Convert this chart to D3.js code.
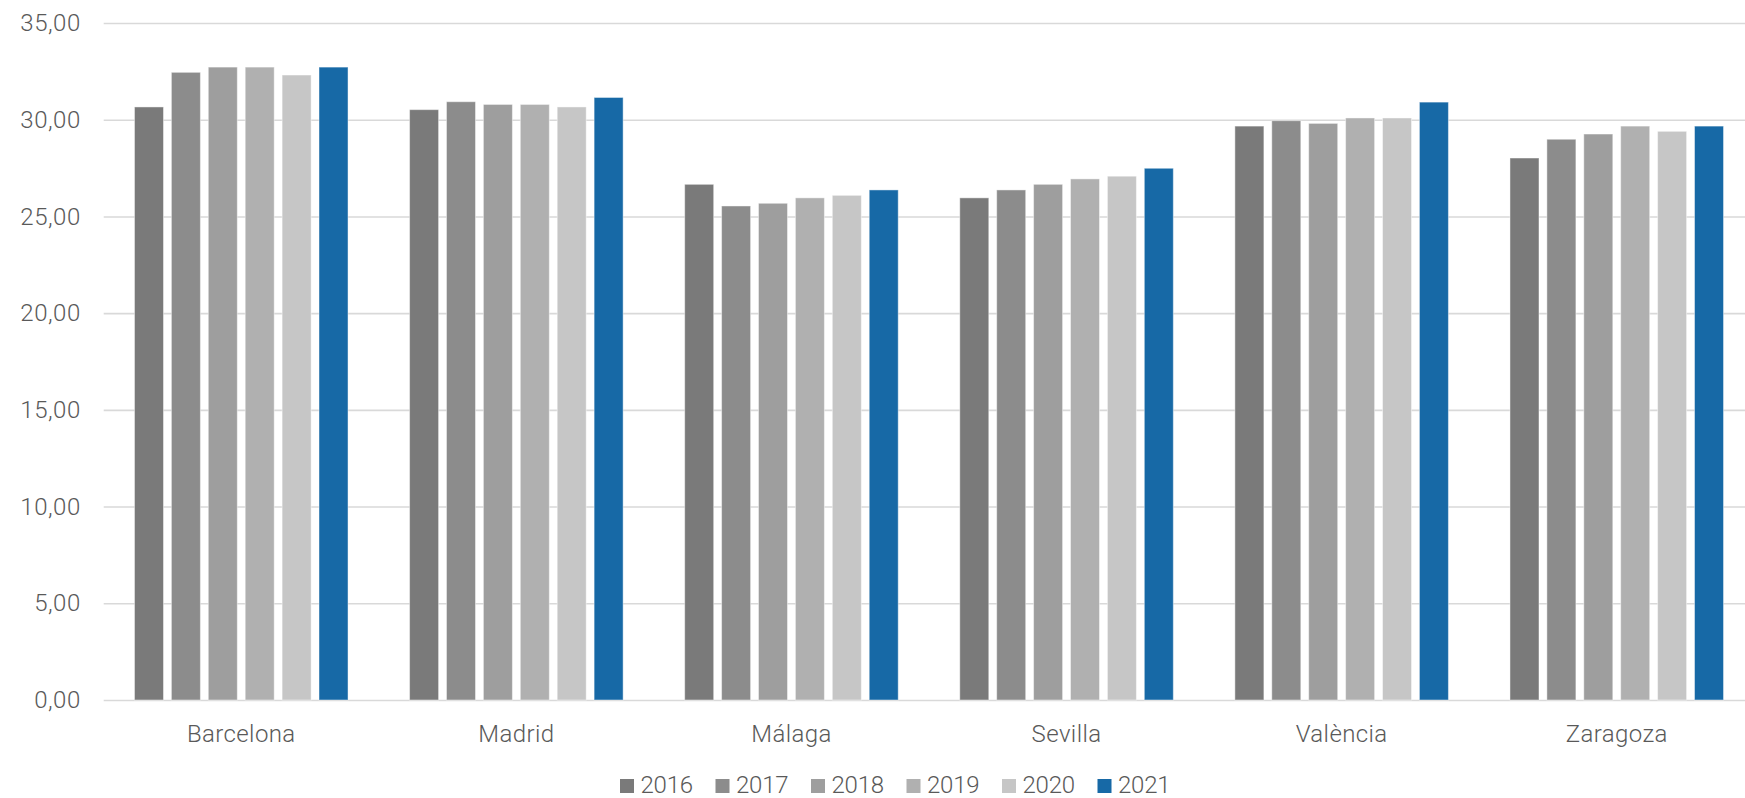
<!DOCTYPE html>
<html><head><meta charset="utf-8">
<script src="https://cdn.jsdelivr.net/npm/d3@7"></script>
<style>body{margin:0;background:#fff;} svg{display:block;} text{font-family:Roboto, "Noto Sans", sans-serif;fill:#595959;font-weight:300;}</style>
</head><body><svg id="c" width="1745" height="798"></svg>
<script>
const cities = ["Barcelona","Madrid","Málaga","Sevilla","València","Zaragoza"];
const years = ["2016","2017","2018","2019","2020","2021"];
const v2016 = [30.66,30.52,26.66,25.96,29.67,28.02];
const v2017 = [32.45,30.93,25.54,26.37,29.95,28.99];
const v2018 = [32.72,30.79,25.68,26.66,29.81,29.26];
const v2019 = [32.72,30.79,25.96,26.94,30.09,29.67];
const v2020 = [32.31,30.66,26.09,27.08,30.09,29.40];
const v2021 = [32.72,31.15,26.37,27.49,30.91,29.67];
const yTicks = [0,5,10,15,20,25,30,35];
const colors = ["#7a7a7a","#8c8c8c","#9e9e9e","#b0b0b0","#c6c6c6","#1769a6"];
const series = [v2016,v2017,v2018,v2019,v2020,v2021];

const svg = d3.select("#c");
const L=103.7, R=1754.3, T=23, B=700;
const y = d3.scaleLinear().domain([0,35]).range([B,T]);
const x0 = d3.scaleBand().domain(cities).range([L,R]);
const x1 = d3.scaleBand().domain(years).range([0,x0.bandwidth()]).paddingInner(0.214).paddingOuter(0.834);

const yAxis = svg.append("g").attr("transform",`translate(${L},0)`)
  .call(d3.axisLeft(y).tickValues(yTicks).tickSize(-(R-L)).tickFormat(d=>d3.format(".2f")(d).replace(".",",")));
yAxis.select(".domain").remove();
yAxis.selectAll("line").attr("stroke","#d9d9d9").attr("stroke-width",1.6);
yAxis.selectAll("text").attr("x",-23).attr("font-size",24).attr("letter-spacing",0.5).attr("fill","#595959").attr("font-family","Roboto").attr("font-weight",300);

const g = svg.append("g");
years.forEach((yr,i)=>{
  g.selectAll(null).data(series[i]).enter().append("rect")
    .attr("x",(d,j)=>x0(cities[j])+x1(yr))
    .attr("y",d=>y(d))
    .attr("width",x1.bandwidth())
    .attr("height",d=>B-y(d))
    .attr("fill",colors[i])
    .attr("stroke","rgba(255,255,255,0.45)").attr("stroke-width",1);
});

const xAxis = svg.append("g").attr("transform",`translate(0,${B})`).call(d3.axisBottom(x0).tickSize(0).tickPadding(25));
xAxis.select(".domain").remove();
xAxis.selectAll("text").attr("font-size",24).attr("letter-spacing",0.4).attr("fill","#595959").attr("font-family","Roboto").attr("font-weight",300);

const legStep = 95.5, legX = 620;
const leg = svg.append("g");
years.forEach((yr,i)=>{
  const gx = legX + i*legStep;
  leg.append("rect").attr("x",gx).attr("y",779).attr("width",14).attr("height",14).attr("fill",colors[i]);
  leg.append("text").attr("x",gx+20.5).attr("y",793.3).attr("font-size",24).attr("letter-spacing",-0.2).text(yr);
});
</script></body></html>
